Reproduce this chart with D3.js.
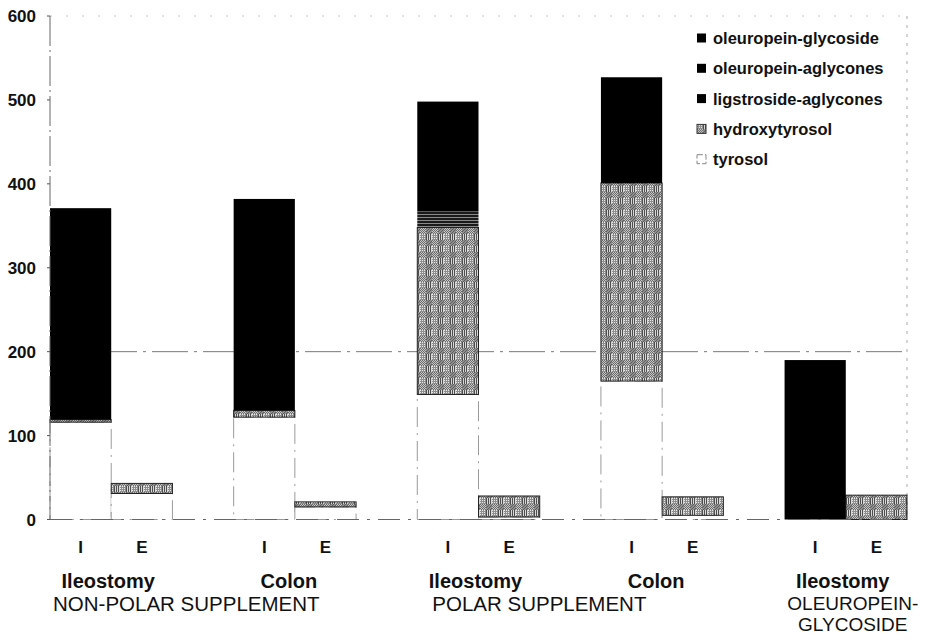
<!DOCTYPE html>
<html>
<head>
<meta charset="utf-8">
<script src="https://cdn.jsdelivr.net/npm/d3@7"></script>
<style>
  html, body { margin: 0; padding: 0; background: #fff; }
  svg { display: block; font-family: "Liberation Sans", Arial, Helvetica, sans-serif; }
</style>
</head>
<body>
<svg id="chart" width="926" height="642"></svg>
<script>
// ---------------- data ----------------
const groups = ["np-ileo", "np-colon", "p-ileo", "p-colon", "o-ileo"];
const groupNames = ["Ileostomy", "Colon", "Ileostomy", "Colon", "Ileostomy"];
const sites = ["I", "E"];
const supplementNames = ["NON-POLAR SUPPLEMENT", "POLAR SUPPLEMENT", "OLEUROPEIN-|GLYCOSIDE"];
const supplementGroups = [["np-ileo", "np-colon"], ["p-ileo", "p-colon"], ["o-ileo"]];
const seriesNames = ["tyrosol", "hydroxytyrosol", "ligstroside-aglycones", "oleuropein-aglycones", "oleuropein-glycoside"];
// bar order: group x site (I, E)
const tyrosol              = [116, 31, 122, 15, 149, 3, 165, 5, 0, 0];
const hydroxytyrosol       = [3, 12, 8, 6, 199, 25, 236, 22, 0, 29];
const ligstrosideAglycones = [0, 0, 0, 0, 19, 0, 0, 0, 0, 0];
const oleuropeinAglycones  = [252, 0, 252, 0, 131, 0, 126, 0, 0, 0];
const oleuropeinGlycoside  = [0, 0, 0, 0, 0, 0, 0, 0, 190, 0];
const yTicks = [0, 100, 200, 300, 400, 500, 600];
const legendOrder = ["oleuropein-glycoside", "oleuropein-aglycones", "ligstroside-aglycones", "hydroxytyrosol", "tyrosol"];

// ---------------- build table ----------------
const seriesValues = [tyrosol, hydroxytyrosol, ligstrosideAglycones, oleuropeinAglycones, oleuropeinGlycoside];
const rows = [];
groups.forEach((g, gi) => sites.forEach((s, si) => {
  const idx = gi * 2 + si;
  const r = { group: g, site: s };
  seriesNames.forEach((n, k) => r[n] = seriesValues[k][idx]);
  rows.push(r);
}));
const stacked = d3.stack().keys(seriesNames)(rows);

// ---------------- layout ----------------
const svg = d3.select("#chart");
const mLeft = 50, mRight = 907, mTop = 16, mBottom = 519.5;

const x0 = d3.scaleBand().domain(groups).range([mLeft, mRight]).paddingInner(1 / 3).paddingOuter(0);
const x1 = d3.scaleBand().domain(sites).range([0, x0.bandwidth()]).padding(0);
const y = d3.scaleLinear().domain([0, 600]).range([mBottom, mTop]);

// ---------------- patterns ----------------
const defs = svg.append("defs");
const hp = defs.append("pattern").attr("id", "hydroxy").attr("patternUnits", "userSpaceOnUse")
  .attr("width", 12).attr("height", 12);
hp.append("rect").attr("width", 12).attr("height", 12).attr("fill", "#8e8e8e");
// checker block
for (let i = 0; i < 6; i++) for (let j = 0; j < 6; j++) {
  hp.append("rect").attr("x", i).attr("y", j).attr("width", 1).attr("height", 1)
    .attr("fill", (i + j) % 2 === 0 ? "#6a6a6a" : "#c8c8c8");
}
// vertical-line block
for (let i = 6; i < 12; i++) hp.append("rect").attr("x", i).attr("y", 6).attr("width", 1).attr("height", 6)
  .attr("fill", i % 2 === 0 ? "#4e4e4e" : "#d8d8d8");
// light grid block
for (let i = 0; i < 6; i++) for (let j = 6; j < 12; j++) {
  if (i % 2 === 0 && j % 2 === 0) hp.append("rect").attr("x", i).attr("y", j).attr("width", 1).attr("height", 1).attr("fill", "#e8e8e8");
}
// darker blotch
for (let i = 6; i < 12; i++) for (let j = 0; j < 6; j++) {
  if ((i + j) % 3 === 0) hp.append("rect").attr("x", i).attr("y", j).attr("width", 1).attr("height", 1).attr("fill", "#5c5c5c");
}

const lp = defs.append("pattern").attr("id", "ligstro").attr("patternUnits", "userSpaceOnUse")
  .attr("width", 4).attr("height", 3);
lp.append("rect").attr("width", 4).attr("height", 3).attr("fill", "#1a1a1a");
lp.append("rect").attr("y", 1).attr("width", 4).attr("height", 1).attr("fill", "#8a8a8a");

const fills = {
  "tyrosol": "#ffffff",
  "hydroxytyrosol": "url(#hydroxy)",
  "ligstroside-aglycones": "url(#ligstro)",
  "oleuropein-aglycones": "#000000",
  "oleuropein-glycoside": "#000000"
};

// ---------------- frame & grid ----------------
const frame = svg.append("g");
frame.append("line").attr("x1", mLeft).attr("x2", mRight).attr("y1", y(600)).attr("y2", y(600))
  .attr("stroke", "#c4c4c4").attr("stroke-width", 1).attr("stroke-dasharray", "2,14");
frame.append("line").attr("x1", mRight).attr("x2", mRight).attr("y1", y(600)).attr("y2", y(0))
  .attr("stroke", "#aaa").attr("stroke-width", 1).attr("stroke-dasharray", "3,6");
frame.append("line").attr("x1", mLeft).attr("x2", mRight).attr("y1", y(200)).attr("y2", y(200))
  .attr("stroke", "#7a7a7a").attr("stroke-width", 1).attr("stroke-dasharray", "36,6,3,6");

// ---------------- bars ----------------
const layers = svg.append("g").selectAll("g").data(stacked).join("g")
  .attr("fill", d => fills[d.key]);
layers.selectAll("rect")
  .data(d => d.map(p => ({ key: d.key, p })).filter(o => o.p[1] - o.p[0] > 0))
  .join("rect")
  .attr("x", o => x0(o.p.data.group) + x1(o.p.data.site))
  .attr("width", x1.bandwidth())
  .attr("y", o => y(o.p[1]))
  .attr("height", o => y(o.p[0]) - y(o.p[1]))
  .attr("stroke", o => o.key === "tyrosol" ? "#9a9a9a" : (o.key === "hydroxytyrosol" ? "#222" : "none"))
  .attr("stroke-width", 1)
  .attr("stroke-dasharray", o => o.key === "tyrosol" ? "20,6,2,6" : null);

// ---------------- axes ----------------
const axisG = svg.append("g");
axisG.append("line").attr("x1", mLeft).attr("x2", mLeft).attr("y1", y(600)).attr("y2", y(0))
  .attr("stroke", "#666").attr("stroke-width", 1).attr("stroke-dasharray", "30,4,2,4");
axisG.append("line").attr("x1", mLeft).attr("x2", mRight).attr("y1", y(0)).attr("y2", y(0))
  .attr("stroke", "#666").attr("stroke-width", 1).attr("stroke-dasharray", "22,8,3,8");
axisG.selectAll("line.tick").data(yTicks).join("line").attr("class", "tick")
  .attr("x1", mLeft - 3).attr("x2", mLeft).attr("y1", d => y(d)).attr("y2", d => y(d))
  .attr("stroke", "#555");
axisG.selectAll("text.ytick").data(yTicks).join("text").attr("class", "ytick")
  .attr("x", 36).attr("y", d => y(d)).attr("dy", "0.36em")
  .attr("text-anchor", "end").attr("font-size", 17).attr("font-weight", "bold").attr("fill", "#111")
  .text(d => d);

// site labels
const siteLab = svg.append("g");
groups.forEach(g => {
  sites.forEach(s => {
    siteLab.append("text")
      .attr("x", x0(g) + x1(s) + x1.bandwidth() / 2)
      .attr("y", 547).attr("dy", "0.36em")
      .attr("text-anchor", "middle").attr("font-size", 17).attr("font-weight", "bold").attr("fill", "#111")
      .text(s);
  });
});
// group names
svg.append("g").selectAll("text").data(groups).join("text")
  .attr("x", (g, i) => x0(g) + x0.bandwidth() / 2 - (groupNames[i] === "Colon" ? 6 : 3))
  .attr("y", 581).attr("dy", "0.36em")
  .attr("text-anchor", "middle").attr("font-size", 20).attr("font-weight", "bold").attr("fill", "#111")
  .text((g, i) => groupNames[i]);
// supplement names
const supOffsets = [3, 15];
supplementNames.forEach((name, i) => {
  const gs = supplementGroups[i];
  const lines = name.split("|");
  if (lines.length === 1) {
    svg.append("text")
      .attr("x", x0(gs[0]) + supOffsets[i]).attr("y", 604).attr("dy", "0.36em")
      .attr("text-anchor", "start").attr("font-size", 20.5).attr("fill", "#111")
      .text(lines[0]);
  } else {
    const cx = x0(gs[0]) + x0.bandwidth() / 2 + 7;
    lines.forEach((ln, k) => {
      svg.append("text")
        .attr("x", cx).attr("y", 603 + k * 21).attr("dy", "0.36em")
        .attr("text-anchor", "middle").attr("font-size", 19).attr("fill", "#111")
        .text(ln);
    });
  }
});

// ---------------- legend ----------------
const legend = svg.append("g").attr("transform", "translate(697,38)");
const li = legend.selectAll("g").data(legendOrder).join("g")
  .attr("transform", (d, i) => `translate(0,${i * 30.3})`);
li.append("rect").attr("x", 0).attr("y", -4.5).attr("width", 9).attr("height", 9)
  .attr("fill", d => d === "ligstroside-aglycones" ? "#000" : fills[d])
  .attr("stroke", d => d === "tyrosol" ? "#888" : (d === "hydroxytyrosol" ? "#333" : "none"))
  .attr("stroke-dasharray", d => d === "tyrosol" ? "6,2" : null);
li.append("text").attr("x", 16).attr("y", 0).attr("dy", "0.36em")
  .attr("font-size", 16.5).attr("font-weight", "bold").attr("fill", "#111")
  .text(d => d);
</script>
</body>
</html>
